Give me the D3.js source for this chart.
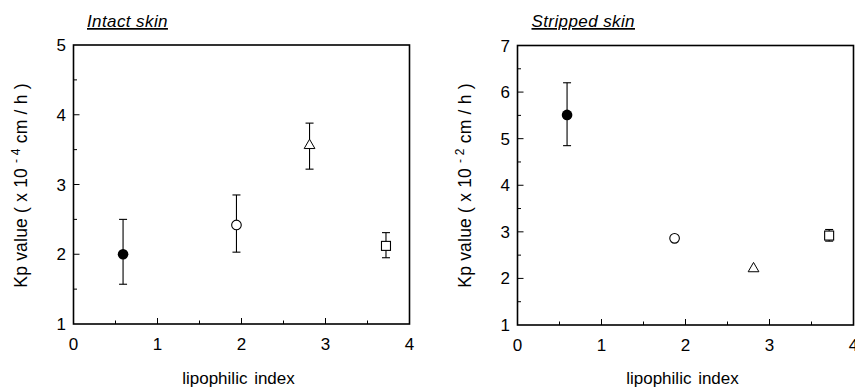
<!DOCTYPE html>
<html><head><meta charset="utf-8">
<script src="https://cdn.jsdelivr.net/npm/d3@7"></script>
<style>
body{margin:0;background:#fff;}
svg{display:block;font-family:"Liberation Sans",Arial,Helvetica,sans-serif;}
</style></head>
<body><svg id="c" width="855" height="388"></svg>
<script>
const panelTitles = ["Intact skin", "Stripped skin"];
const markerShapes = ["filledCircle", "openCircle", "triangle", "square"];
const xTicks = [0, 1, 2, 3, 4];
const xIntact = [0.59, 1.94, 2.81, 3.72];
const yIntact = [2.00, 2.42, 3.56, 2.12];
const errHiIntact = [2.50, 2.85, 3.88, 2.31];
const errLoIntact = [1.57, 2.03, 3.22, 1.95];
const yTicksIntact = [1, 2, 3, 4, 5];
const xStripped = [0.59, 1.87, 2.81, 3.71];
const yStripped = [5.51, 2.86, 2.21, 2.92];
const errHiStripped = [6.20, null, null, 3.05];
const errLoStripped = [4.85, null, null, 2.80];
const yTicksStripped = [1, 2, 3, 4, 5, 6, 7];
const yExpIntact = "-4";
const yExpStripped = "-2";

const svg = d3.select("#c");
const panels = [
  {title: panelTitles[0], xs: xIntact, ys: yIntact, hi: errHiIntact, lo: errLoIntact, yTicks: yTicksIntact, exp: yExpIntact,
   left: 73.5, right: 409.5, top: 45, bottom: 324, titleX: 87, ylabX: 26.5},
  {title: panelTitles[1], xs: xStripped, ys: yStripped, hi: errHiStripped, lo: errLoStripped, yTicks: yTicksStripped, exp: yExpStripped,
   left: 517.5, right: 853.5, top: 45.5, bottom: 325, titleX: 531.5, ylabX: 471}
];

panels.forEach(p => {
  const g = svg.append("g");
  const x = d3.scaleLinear().domain([0, 4]).range([p.left, p.right]);
  const yd = d3.extent(p.yTicks);
  const y = d3.scaleLinear().domain(yd).range([p.bottom, p.top]);

  const xMinor = d3.range(0.5, 4, 1);
  const yMinor = d3.range(yd[0] + 0.5, yd[1], 1);

  g.append("rect").attr("x", p.left).attr("y", p.top)
    .attr("width", p.right - p.left).attr("height", p.bottom - p.top)
    .attr("fill", "none").attr("stroke", "#000").attr("stroke-width", 1.6);

  g.selectAll(".xt").data(xTicks.slice(1, -1)).join("line")
    .attr("x1", d => x(d)).attr("x2", d => x(d))
    .attr("y1", p.bottom).attr("y2", p.bottom - 6)
    .attr("stroke", "#000").attr("stroke-width", 1);
  g.selectAll(".xm").data(xMinor).join("line")
    .attr("x1", d => x(d)).attr("x2", d => x(d))
    .attr("y1", p.bottom).attr("y2", p.bottom - 3.5)
    .attr("stroke", "#000").attr("stroke-width", 1);
  g.selectAll(".yt").data(p.yTicks.slice(1, -1)).join("line")
    .attr("x1", p.left).attr("x2", p.left + 6)
    .attr("y1", d => y(d)).attr("y2", d => y(d))
    .attr("stroke", "#000").attr("stroke-width", 1);
  g.selectAll(".ym").data(yMinor).join("line")
    .attr("x1", p.left).attr("x2", p.left + 3.5)
    .attr("y1", d => y(d)).attr("y2", d => y(d))
    .attr("stroke", "#000").attr("stroke-width", 1);

  g.selectAll(".xl").data(xTicks).join("text")
    .attr("x", d => x(d)).attr("y", p.bottom + 26)
    .attr("text-anchor", "middle").attr("font-size", 17).text(d => d);
  g.selectAll(".yl").data(p.yTicks).join("text")
    .attr("x", p.left - 7.5).attr("y", d => y(d) + 6)
    .attr("text-anchor", "end").attr("font-size", 17).text(d => d);

  g.append("text").attr("x", (p.left + p.right) / 2 - 3).attr("y", 384)
    .attr("text-anchor", "middle").attr("font-size", 17).attr("word-spacing", 2)
    .text("lipophilic index");

  const yl = g.append("text")
    .attr("transform", `translate(${p.ylabX},${185.5}) rotate(-90)`)
    .attr("text-anchor", "middle").attr("font-size", 17.5).attr("letter-spacing", 0.2);
  yl.append("tspan").text("Kp value ( x 10 ");
  yl.append("tspan").attr("dy", -7).attr("font-size", 12).text(p.exp.replace("-", "- "));
  yl.append("tspan").attr("dy", 7).text(" cm / h )");

  g.append("text").attr("x", p.titleX).attr("y", 27)
    .attr("font-size", 17).attr("font-style", "italic").attr("letter-spacing", 0.4)
    .attr("text-decoration", "underline").text(p.title);

  const idx = d3.range(p.xs.length);
  idx.forEach(i => {
    if (p.hi[i] == null) return;
    const cx = x(p.xs[i]);
    g.append("line").attr("x1", cx).attr("x2", cx).attr("y1", y(p.hi[i])).attr("y2", y(p.lo[i]))
      .attr("stroke", "#000").attr("stroke-width", 1.1);
    [p.hi[i], p.lo[i]].forEach(v => {
      g.append("line").attr("x1", cx - 4).attr("x2", cx + 4).attr("y1", y(v)).attr("y2", y(v))
        .attr("stroke", "#000").attr("stroke-width", 1.1);
    });
  });

  idx.forEach(i => {
    const cx = x(p.xs[i]), cy = y(p.ys[i]);
    const s = markerShapes[i];
    if (s === "filledCircle") {
      g.append("circle").attr("cx", cx).attr("cy", cy).attr("r", 5.3).attr("fill", "#000");
    } else if (s === "openCircle") {
      g.append("circle").attr("cx", cx).attr("cy", cy).attr("r", 4.8)
        .attr("fill", "#fff").attr("stroke", "#000").attr("stroke-width", 1.1);
    } else if (s === "triangle") {
      const sym = d3.symbol().type(d3.symbolTriangle).size(50);
      g.append("path").attr("d", sym()).attr("transform", `translate(${cx},${cy})`)
        .attr("fill", "#fff").attr("stroke", "#000").attr("stroke-width", 1);
    } else {
      g.append("rect").attr("x", cx - 4.5).attr("y", cy - 4.5).attr("width", 9).attr("height", 9)
        .attr("fill", "#fff").attr("stroke", "#000").attr("stroke-width", 1.1);
    }
  });
});
</script></body></html>
